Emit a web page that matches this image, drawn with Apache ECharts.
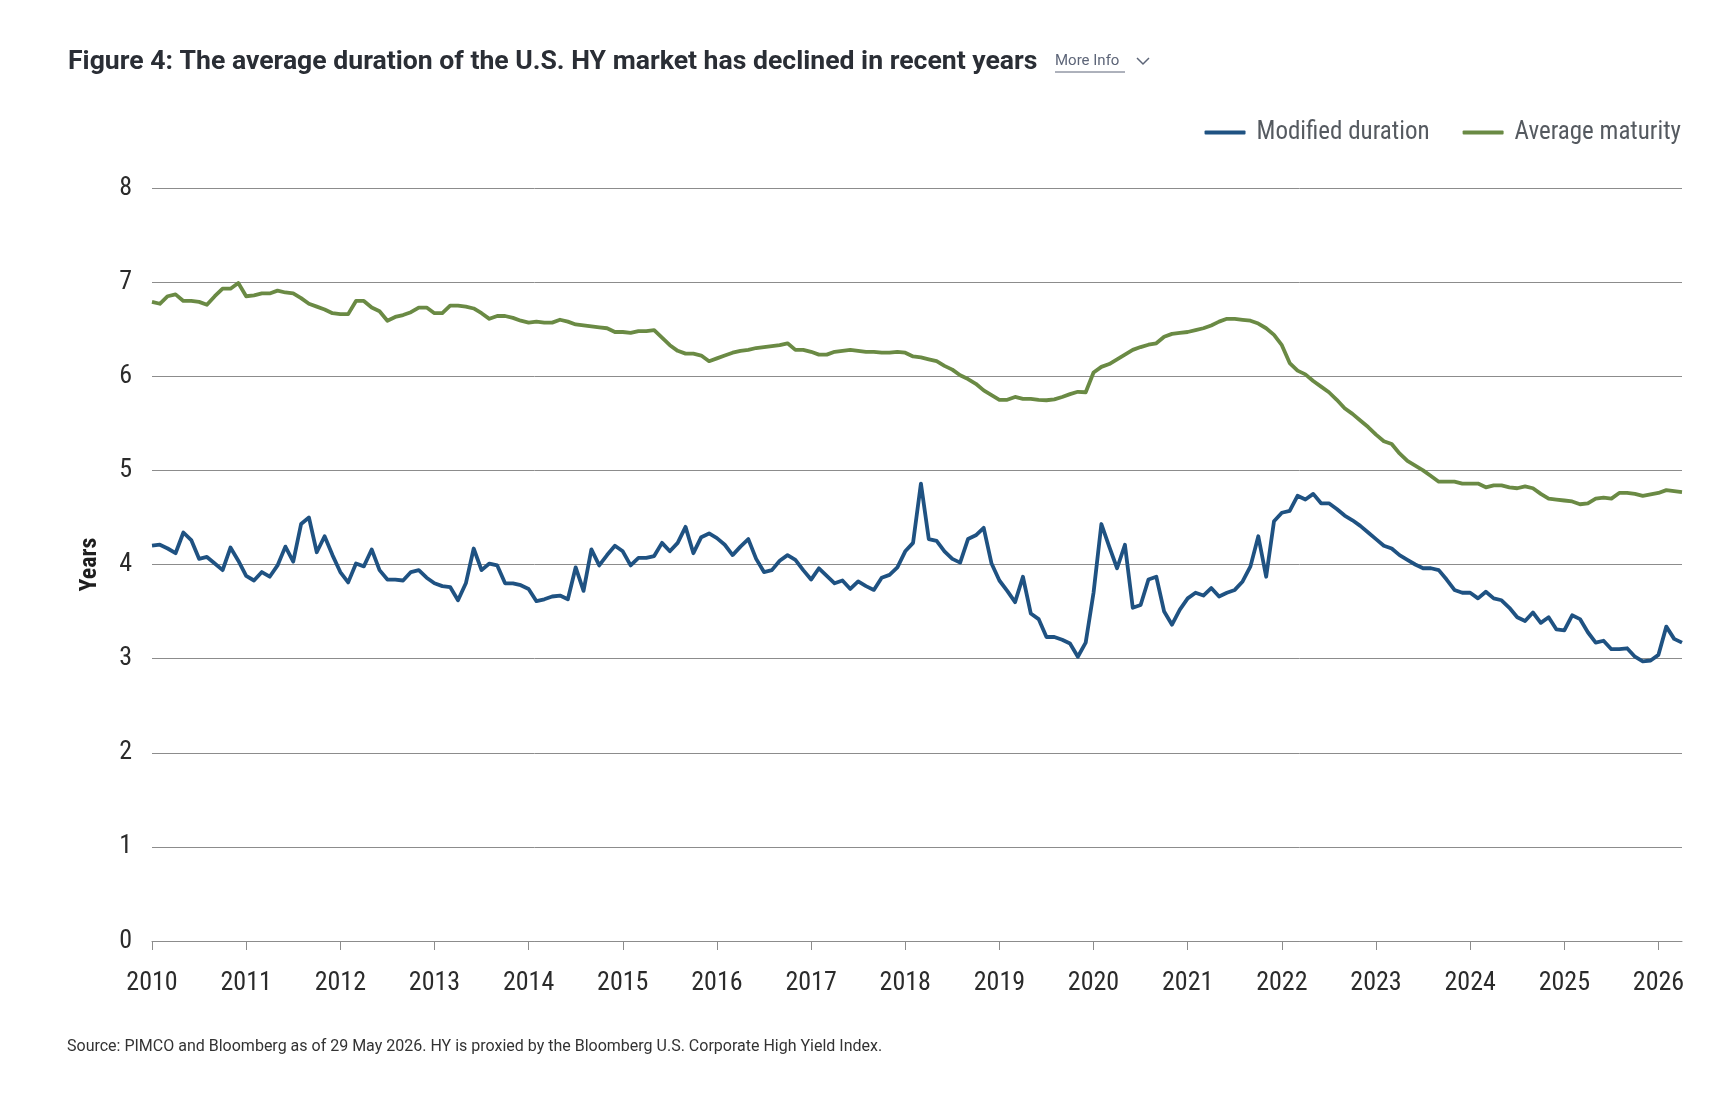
<!DOCTYPE html>
<html>
<head>
    <meta charset="utf-8">
    <title>Figure 4</title>
    <script src="https://cdn.jsdelivr.net/npm/echarts@6/dist/echarts.min.js"></script>
    <style>
        html, body { margin: 0; padding: 0; background: #fff; }
        #chart1 { width: 1736px; height: 1098px; }
    </style>
</head>
<body>
<div id="chart1"></div>
<script>
    // year tick labels, data is monthly from Jan 2010
    var years = ['2010', '2011', '2012', '2013', '2014', '2015', '2016', '2017', '2018',
        '2019', '2020', '2021', '2022', '2023', '2024', '2025', '2026'];
    var months = ['01', '02', '03', '04', '05', '06', '07', '08', '09', '10', '11', '12'];
    var pointCount = 196;

    // Modified duration (years)
    var modDuration = [
        4.20, 4.21, 4.17, 4.12, 4.34, 4.26, 4.06, 4.08, 4.01, 3.94, 4.18, 4.04,
        3.88, 3.83, 3.92, 3.87, 3.99, 4.19, 4.03, 4.43, 4.50, 4.13, 4.30, 4.10,
        3.92, 3.81, 4.01, 3.98, 4.16, 3.94, 3.84, 3.84, 3.83, 3.92, 3.94, 3.86,
        3.80, 3.77, 3.76, 3.62, 3.80, 4.17, 3.94, 4.01, 3.99, 3.80, 3.80, 3.78,
        3.74, 3.61, 3.63, 3.66, 3.67, 3.63, 3.97, 3.72, 4.16, 3.99, 4.10, 4.20,
        4.14, 3.99, 4.07, 4.07, 4.09, 4.23, 4.14, 4.23, 4.40, 4.12, 4.29, 4.33,
        4.28, 4.21, 4.10, 4.19, 4.27, 4.06, 3.92, 3.94, 4.04, 4.10, 4.05, 3.94,
        3.84, 3.96, 3.88, 3.80, 3.83, 3.74, 3.82, 3.77, 3.73, 3.86, 3.89, 3.97,
        4.14, 4.23, 4.86, 4.27, 4.25, 4.14, 4.06, 4.02, 4.27, 4.31, 4.39, 4.01,
        3.83, 3.72, 3.60, 3.87, 3.48, 3.42, 3.23, 3.23, 3.20, 3.16, 3.02, 3.17,
        3.70, 4.43, 4.19, 3.96, 4.21, 3.54, 3.57, 3.84, 3.87, 3.50, 3.36, 3.52,
        3.64, 3.70, 3.67, 3.75, 3.66, 3.70, 3.73, 3.82, 3.98, 4.30, 3.87, 4.46,
        4.55, 4.57, 4.73, 4.69, 4.75, 4.65, 4.65, 4.59, 4.52, 4.47, 4.41, 4.34,
        4.27, 4.20, 4.17, 4.10, 4.05, 4.00, 3.96, 3.96, 3.94, 3.84, 3.73, 3.70,
        3.70, 3.64, 3.71, 3.64, 3.62, 3.54, 3.44, 3.40, 3.49, 3.38, 3.44, 3.31,
        3.30, 3.46, 3.42, 3.28, 3.17, 3.19, 3.10, 3.10, 3.11, 3.02, 2.97, 2.98,
        3.04, 3.34, 3.21, 3.17
    ];

    // Average maturity (years)
    var avgMaturity = [
        6.79, 6.77, 6.85, 6.87, 6.80, 6.80, 6.79, 6.76, 6.85, 6.93, 6.93, 6.99,
        6.85, 6.86, 6.88, 6.88, 6.91, 6.89, 6.88, 6.83, 6.77, 6.74, 6.71, 6.67,
        6.66, 6.66, 6.80, 6.80, 6.73, 6.69, 6.59, 6.63, 6.65, 6.68, 6.73, 6.73,
        6.67, 6.67, 6.75, 6.75, 6.74, 6.72, 6.67, 6.61, 6.64, 6.64, 6.62, 6.59,
        6.57, 6.58, 6.57, 6.57, 6.60, 6.58, 6.55, 6.54, 6.53, 6.52, 6.51, 6.47,
        6.47, 6.46, 6.48, 6.48, 6.49, 6.41, 6.33, 6.27, 6.24, 6.24, 6.22, 6.16,
        6.19, 6.22, 6.25, 6.27, 6.28, 6.30, 6.31, 6.32, 6.33, 6.35, 6.28, 6.28,
        6.26, 6.23, 6.23, 6.26, 6.27, 6.28, 6.27, 6.26, 6.26, 6.25, 6.25, 6.26,
        6.25, 6.21, 6.20, 6.18, 6.16, 6.11, 6.07, 6.01, 5.97, 5.92, 5.85, 5.80,
        5.75, 5.75, 5.78, 5.76, 5.76, 5.75, 5.745, 5.755, 5.78, 5.81, 5.835, 5.83,
        6.04, 6.10, 6.13, 6.18, 6.23, 6.28, 6.31, 6.335, 6.35, 6.42, 6.45, 6.46,
        6.47, 6.49, 6.51, 6.54, 6.58, 6.61, 6.61, 6.60, 6.59, 6.56, 6.51, 6.44,
        6.33, 6.14, 6.06, 6.02, 5.95, 5.89, 5.83, 5.75, 5.66, 5.60, 5.53, 5.46,
        5.38, 5.31, 5.28, 5.18, 5.10, 5.05, 5.00, 4.94, 4.88, 4.88, 4.88, 4.86,
        4.86, 4.86, 4.82, 4.84, 4.84, 4.82, 4.81, 4.83, 4.81, 4.75, 4.70, 4.69,
        4.68, 4.67, 4.64, 4.65, 4.70, 4.71, 4.70, 4.76, 4.76, 4.75, 4.73, 4.745,
        4.76, 4.79, 4.78, 4.77
    ];

    // month categories, e.g. 2010-01
    var categories = [];
    for (var y = 0; y < years.length; y++) {
        for (var m = 0; m < months.length; m++) {
            if (categories.length < pointCount) categories.push(years[y] + '-' + months[m]);
        }
    }

    var narrowFont = "'Liberation Sans Narrow', 'Roboto Condensed', Roboto, sans-serif";
    var gridColor = '#8c8c8c';

    var myChart1 = echarts.init(document.getElementById('chart1'), null, {renderer: 'canvas'});
    myChart1.setOption({
        animation: false,
        backgroundColor: '#ffffff',
        title: {
            text: 'Figure 4: The average duration of the U.S. HY market has declined in recent years',
            left: 63,
            top: 44,
            textStyle: {
                fontFamily: 'Roboto, sans-serif',
                fontWeight: 'bold',
                fontSize: 26.6,
                color: '#2a2e35'
            }
        },
        legend: {
            right: 50,
            top: 115,
            itemWidth: 41,
            itemHeight: 4,
            itemGap: 33,
            icon: 'roundRect',
            data: ['Modified duration', 'Average maturity'],
            textStyle: {
                fontFamily: narrowFont,
                fontSize: 25,
                color: '#555a60',
                padding: [0, 0, 0, 6]
            }
        },
        grid: {
            left: 152,
            right: 54,
            top: 188,
            bottom: 157,
            containLabel: false
        },
        xAxis: {
            type: 'category',
            data: categories,
            boundaryGap: false,
            axisLine: {lineStyle: {color: gridColor, width: 1}},
            axisTick: {
                show: true,
                length: 9,
                lineStyle: {color: gridColor},
                interval: function (index) { return index % 12 === 0; }
            },
            axisLabel: {
                margin: 29,
                fontFamily: narrowFont,
                fontSize: 26,
                color: '#2b2b2b',
                interval: function (index) { return index % 12 === 0; },
                formatter: function (value) { return value.substring(0, 4); }
            },
            splitLine: {show: false}
        },
        yAxis: {
            type: 'value',
            min: 0,
            max: 8,
            interval: 1,
            name: 'Years',
            nameLocation: 'middle',
            nameGap: 50,
            nameRotate: 90,
            nameTextStyle: {
                fontFamily: narrowFont,
                fontSize: 24,
                fontWeight: 'bold',
                color: '#1e1e1e'
            },
            axisLine: {show: false},
            axisTick: {show: false},
            axisLabel: {
                margin: 20,
                fontFamily: narrowFont,
                fontSize: 26,
                color: '#2b2b2b'
            },
            splitLine: {lineStyle: {color: gridColor, width: 1}}
        },
        series: [
            {
                name: 'Modified duration',
                type: 'line',
                data: modDuration,
                showSymbol: false,
                symbol: 'none',
                color: '#1f5282',
                lineStyle: {width: 3.8, color: '#1f5282', join: 'round'}
            },
            {
                name: 'Average maturity',
                type: 'line',
                data: avgMaturity,
                showSymbol: false,
                symbol: 'none',
                color: '#6a8a44',
                lineStyle: {width: 3.8, color: '#6a8a44', join: 'round'}
            }
        ],
        graphic: [
            {
                type: 'text',
                left: 1055,
                top: 54,
                style: {
                    text: 'More Info',
                    font: '15px Roboto, sans-serif',
                    fill: '#5d6578'
                }
            },
            {
                type: 'line',
                shape: {x1: 1055, y1: 72, x2: 1125, y2: 72},
                style: {stroke: '#5d6578', lineWidth: 1}
            },
            {
                type: 'polyline',
                shape: {points: [[1137, 58], [1143, 64], [1149, 58]]},
                style: {stroke: '#5d6578', lineWidth: 1.5, fill: null}
            },
            {
                type: 'text',
                left: 67,
                top: 1039,
                style: {
                    text: 'Source: PIMCO and Bloomberg as of 29 May 2026. HY is proxied by the Bloomberg U.S. Corporate High Yield Index.',
                    font: '16px Roboto, sans-serif',
                    fill: '#333333'
                }
            }
        ]
    });
</script>
</body>
</html>
